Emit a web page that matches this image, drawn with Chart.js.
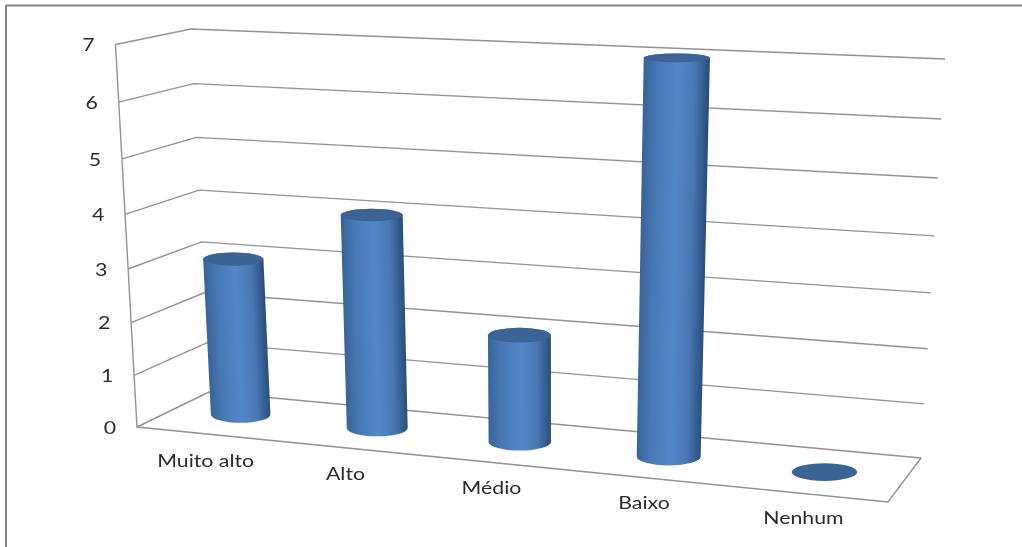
<!DOCTYPE html>
<html><head><meta charset="utf-8">
<script src="https://cdn.jsdelivr.net/npm/chart.js@4"></script>
<style>
html,body{margin:0;padding:0;background:#fff;overflow:hidden}
#w{position:absolute;left:0;top:0;width:1022px;height:547px}
canvas{filter:blur(0.55px)}
</style></head><body>
<div id="w"><canvas id="c" width="1022" height="547"></canvas></div>
<script>
const categories = ["Muito alto","Alto","Médio","Baixo","Nenhum"];
const values = [3,4,2,7,0];
const tickMax = 7;

function quad(p0,p1,p2,p3){
  const [x0,y0]=p0,[x1,y1]=p1,[x2,y2]=p2,[x3,y3]=p3;
  const dx1=x1-x2,dx2=x3-x2,sx=x0-x1+x2-x3,dy1=y1-y2,dy2=y3-y2,sy=y0-y1+y2-y3;
  const den=dx1*dy2-dx2*dy1;
  const g=(sx*dy2-dx2*sy)/den,h=(dx1*sy-sx*dy1)/den;
  const a=x1-x0+g*x1,b=x3-x0+h*x3,d=y1-y0+g*y1,e=y3-y0+h*y3;
  return (u,v)=>{const w=g*u+h*v+1;return [(a*u+b*v+x0)/w,(d*u+e*v+y0)/w];};
}
const backWall = quad([209,392],[921,458],[945,59],[191,29]);
const leftWall = quad([137,427],[209,392],[191,29],[115.5,44.5]);
const barPlane = quad([174.5,408],[905,480],[929,68],[153,37]);
const frontCorner=[888,502];

const scene3d = {
  id:'scene3d',
  beforeDatasetsDraw(chart){
    const ctx=chart.ctx,ys=chart.scales.y,xs=chart.scales.x;
    const A=chart.chartArea;
    const fv=val=>(A.bottom-ys.getPixelForValue(val))/(A.bottom-A.top);
    const lv=v=>v-0.03*v*(1-v);
    ctx.save();
    // outer frame
    ctx.strokeStyle='#868686';ctx.lineWidth=2;
    ctx.beginPath();ctx.moveTo(6,547);ctx.lineTo(6,5.5);ctx.lineTo(1022,5.5);ctx.stroke();
    // grid
    ctx.strokeStyle='#929292';ctx.lineWidth=1.4;ctx.lineJoin='miter';
    ys.ticks.forEach(t=>{
      const v=fv(t.value);
      const a=leftWall(0,lv(v)),b=leftWall(1,lv(v)),c=backWall(1,v);
      ctx.beginPath();ctx.moveTo(a[0],a[1]);ctx.lineTo(b[0],b[1]);ctx.lineTo(c[0],c[1]);ctx.stroke();
    });
    // left front vertical + floor
    const top=leftWall(0,1),bot=leftWall(0,0),br=backWall(1,0);
    ctx.beginPath();ctx.moveTo(top[0],top[1]);ctx.lineTo(bot[0],bot[1]);
    ctx.lineTo(frontCorner[0],frontCorner[1]);ctx.lineTo(br[0],br[1]);ctx.stroke();
    // y labels
    ctx.fillStyle='#2b2b2b';ctx.textAlign='center';ctx.textBaseline='middle';
    ys.ticks.forEach(t=>{
      const p=leftWall(0,lv(fv(t.value)));
      stretchText(ctx,t.label,p[0]-27,p[1]+1.5);
    });
    // x labels
    const meta=chart.getDatasetMeta(0);
    meta.data.forEach((el,i)=>{
      const u=(el.x-A.left)/(A.right-A.left);
      const b=barPlane(u,0);
      const lx=b[0]-35+(b[0]-240.5)*0.024,ly=b[1]+47;
      stretchText(ctx,xs.getLabelForValue(i),lx,ly);
    });
    ctx.restore();
  },
  afterDatasetsDraw(chart){
    const ctx=chart.ctx,A=chart.chartArea;
    const meta=chart.getDatasetMeta(0);
    meta.data.forEach(el=>{
      const w=A.right-A.left;
      const u=(el.x-A.left)/w,du=el.width/w;
      const v=(A.bottom-el.y)/(A.bottom-A.top);
      drawCylinder(ctx,u,du,v);
    });
  }
};
function stretchText(ctx,s,x,y){
  ctx.save();
  ctx.font='16.5px Lato, Carlito, sans-serif';
  ctx.translate(x,y);ctx.scale(1.29,1);
  ctx.fillText(s,0,0);
  ctx.restore();
}
function ryAt(y){return 4.5+(y-59)*0.0105;}
function drawCylinder(ctx,u,du,v){
  const bc=barPlane(u,0),tc=barPlane(u,v);
  const rxOf=vv=>{const a=barPlane(u-du/2,vv),b=barPlane(u+du/2,vv);return 31+0.55*((b[0]-a[0])/2-31);};
  const rb=rxOf(0),rt=rxOf(v),yb=ryAt(bc[1]),yt=ryAt(tc[1]);
  ctx.save();
  if(v>0.001){
    ctx.beginPath();
    ctx.moveTo(tc[0]-rt,tc[1]);
    ctx.lineTo(bc[0]-rb,bc[1]);
    ctx.ellipse(bc[0],bc[1],rb,yb,0,Math.PI,0,true);
    ctx.lineTo(tc[0]+rt,tc[1]);
    ctx.ellipse(tc[0],tc[1],rt,yt,0,0,Math.PI,true);
    ctx.closePath();
    const k=(tc[0]-bc[0])/(tc[1]-bc[1]);
    ctx.save();
    ctx.transform(1,0,k,1,-k*bc[1],0);
    const r=(rb+rt)/2;
    const g=ctx.createLinearGradient(bc[0]-r,0,bc[0]+r,0);
    g.addColorStop(0,'#386496');
    g.addColorStop(0.2,'#4777b4');
    g.addColorStop(0.52,'#5487c8');
    g.addColorStop(0.78,'#4877b3');
    g.addColorStop(0.93,'#335b8d');
    g.addColorStop(1,'#284d79');
    ctx.fillStyle=g;
    ctx.fill();
    ctx.restore();
  }
  ctx.beginPath();
  ctx.ellipse(tc[0],tc[1],rt,yt,0,0,Math.PI*2);
  ctx.fillStyle='#3b6494';
  ctx.fill();
  ctx.restore();
}
new Chart(document.getElementById('c'),{
  type:'bar',
  data:{labels:categories,datasets:[{data:values,backgroundColor:'rgba(0,0,0,0)',borderWidth:0,categoryPercentage:1,barPercentage:0.43}]},
  options:{
    responsive:false,animation:false,
    layout:{padding:0},
    plugins:{legend:{display:false},tooltip:{enabled:false},title:{display:false}},
    scales:{
      x:{ticks:{display:false},grid:{display:false},border:{display:false}},
      y:{min:0,max:tickMax,ticks:{display:false,stepSize:1},grid:{display:false},border:{display:false}}
    }
  },
  plugins:[scene3d]
});
</script>
</body></html>
